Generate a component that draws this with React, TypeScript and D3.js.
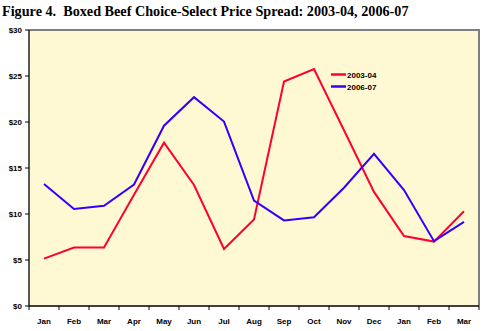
import React from "react";
import * as d3 from "d3";

const months = ["Jan","Feb","Mar","Apr","May","Jun","Jul","Aug","Sep","Oct","Nov","Dec","Jan","Feb","Mar"];
const s2003 = [5.15, 6.35, 6.35, 12.1, 17.75, 13.15, 6.2, 9.4, 24.4, 25.75, 19.1, 12.4, 7.6, 7.0, 10.3];
const s2006 = [13.25, 10.55, 10.9, 13.2, 19.6, 22.7, 20.05, 11.45, 9.3, 9.65, 12.85, 16.55, 12.6, 7.05, 9.15];
const yTicks = [0, 5, 10, 15, 20, 25, 30];
const seriesNames = ["2003-04", "2006-07"];
const colors = ["#FF0033", "#3300FF"];

export default function App() {
  const W = 492, H = 331;
  const left = 29, right = 479, top = 30, bottom = 306;
  const x = d3.scaleBand<number>().domain(d3.range(months.length)).range([left, right]);
  const y = d3.scaleLinear().domain([0, 30]).range([bottom, top]);
  const line = d3.line<number>().x((_, i) => (x(i) as number) + x.bandwidth() / 2).y(d => y(d));
  const series = [s2003, s2006];
  const font = "Arial, 'Liberation Sans', sans-serif";
  return (
    <svg width={W} height={H} style={{ position: "absolute", left: 0, top: 0 }}>
      <rect width={W} height={H} fill="#fff" />
      <text x={2} y={16} fontFamily="'Liberation Serif', 'Times New Roman', serif" fontWeight="bold" fontSize={14.2}>
        Figure 4.{"\u00a0\u00a0"}Boxed Beef Choice-Select Price Spread: 2003-04, 2006-07
      </text>
      <rect x={left} y={top} width={right - left} height={bottom - top} fill="#FFF9D3" />
      <line x1={left} x2={right + 1} y1={top} y2={top} stroke="#808080" strokeWidth={2} />
      <line x1={right} x2={right} y1={top} y2={bottom} stroke="#808080" strokeWidth={2} />
      {series.map((s, k) => (
        <path key={k} d={line(s) || ""} fill="none" stroke={colors[k]} strokeWidth={2} strokeLinejoin="miter" />
      ))}
      <line x1={left} x2={left} y1={top} y2={bottom} stroke="#000" strokeWidth={1.3} />
      <line x1={left} x2={right} y1={bottom} y2={bottom} stroke="#000" strokeWidth={1.3} />
      {yTicks.map(t => (
        <g key={t}>
          <line x1={left - 4} x2={left} y1={y(t)} y2={y(t)} stroke="#000" />
          <text x={22} y={y(t) + 3} textAnchor="end" fontFamily={font} fontWeight="bold" fontSize={8}>${t}</text>
        </g>
      ))}
      {d3.range(months.length + 1).map(i => {
        const xx = i < months.length ? (x(i) as number) : right;
        return <line key={i} x1={xx} x2={xx} y1={bottom} y2={bottom + 4} stroke="#000" />;
      })}
      {months.map((m, i) => (
        <text key={i} x={(x(i) as number) + x.bandwidth() / 2} y={324} textAnchor="middle" fontFamily={font} fontWeight="bold" fontSize={8}>{m}</text>
      ))}
      {seriesNames.map((n, k) => (
        <g key={n}>
          <line x1={331} x2={346} y1={74.5 + k * 12} y2={74.5 + k * 12} stroke={colors[k]} strokeWidth={2.5} />
          <text x={347} y={78 + k * 12} fontFamily={font} fontWeight="bold" fontSize={8}>{n}</text>
        </g>
      ))}
    </svg>
  );
}
